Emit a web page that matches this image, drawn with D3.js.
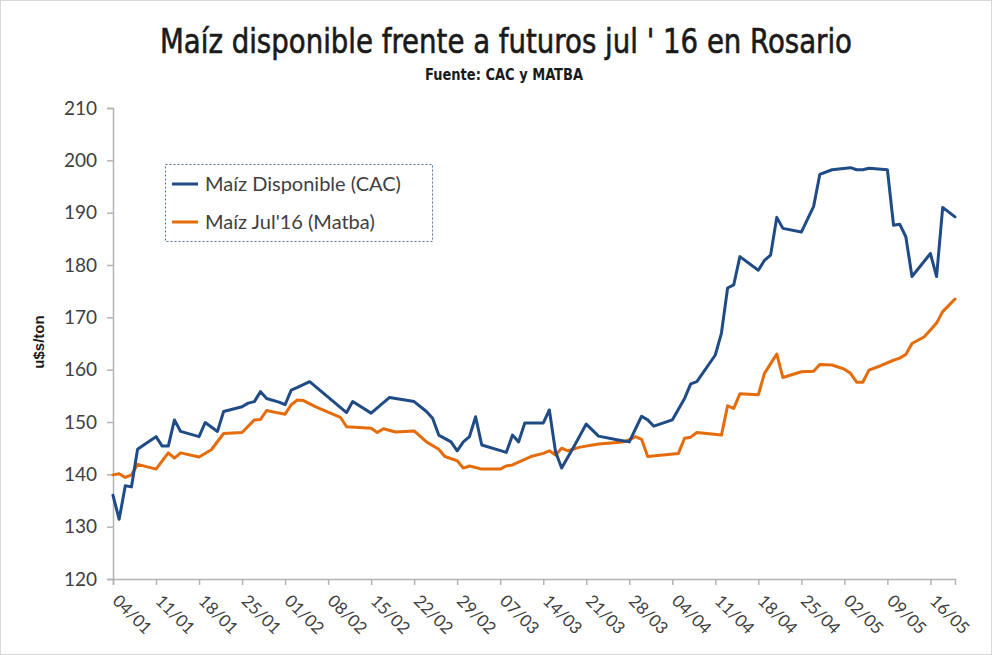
<!DOCTYPE html>
<html>
<head>
<meta charset="utf-8">
<script src="https://cdn.jsdelivr.net/npm/d3@7"></script>
<style>
  html, body { margin: 0; padding: 0; background: #fff; }
  svg { display: block; }
</style>
</head>
<body>
<svg id="chart" width="992" height="655"></svg>
<script>
// ---------------- DATA ----------------
const titleText = "Maíz disponible frente a futuros jul ' 16 en Rosario";
const subtitleText = "Fuente: CAC y MATBA";
const yAxisTitle = "u$s/ton";
const seriesNames = ["Maíz Disponible (CAC)", "Maíz Jul'16 (Matba)"];

const tickLabels = ["04/01","11/01","18/01","25/01","01/02","08/02","15/02","22/02","29/02","07/03",
                    "14/03","21/03","28/03","04/04","11/04","18/04","25/04","02/05","09/05","16/05"];
const yTicks = [120,130,140,150,160,170,180,190,200,210];

const cacDates = ["2016-01-04","2016-01-05","2016-01-06","2016-01-07","2016-01-08","2016-01-09","2016-01-11","2016-01-12",
  "2016-01-13","2016-01-14","2016-01-15","2016-01-18","2016-01-19","2016-01-21","2016-01-22","2016-01-25","2016-01-26",
  "2016-01-27","2016-01-28","2016-01-29","2016-01-31","2016-02-01","2016-02-02","2016-02-03","2016-02-05","2016-02-11",
  "2016-02-12","2016-02-15","2016-02-18","2016-02-22","2016-02-24","2016-02-25","2016-02-26","2016-02-28","2016-02-29",
  "2016-03-01","2016-03-02","2016-03-03","2016-03-04","2016-03-08","2016-03-09","2016-03-10","2016-03-11","2016-03-14",
  "2016-03-15","2016-03-16","2016-03-17","2016-03-19","2016-03-21","2016-03-23","2016-03-26","2016-03-28","2016-03-30",
  "2016-03-31","2016-04-01","2016-04-04","2016-04-06","2016-04-07","2016-04-08","2016-04-11","2016-04-12","2016-04-13",
  "2016-04-14","2016-04-15","2016-04-18","2016-04-19","2016-04-20","2016-04-21","2016-04-22","2016-04-25","2016-04-27",
  "2016-04-28","2016-04-30","2016-05-03","2016-05-04","2016-05-05","2016-05-06","2016-05-09","2016-05-10","2016-05-11",
  "2016-05-12","2016-05-13","2016-05-16","2016-05-17","2016-05-18","2016-05-20"];
const cacValues = [136.0,131.4,137.8,137.6,144.8,145.6,147.2,145.4,
  145.4,150.4,148.2,147.2,149.9,148.2,152.0,152.9,153.6,
  153.9,155.8,154.5,153.8,153.3,156.1,156.6,157.7,151.8,
  153.9,151.7,154.7,153.9,152.0,150.7,147.5,146.2,144.5,
  146.2,147.2,151.0,145.6,144.2,147.5,146.2,149.8,149.8,
  152.3,144.3,141.2,145.3,149.6,147.3,146.6,146.2,151.1,
  150.4,149.2,150.4,154.5,157.3,157.7,162.8,167.0,175.6,
  176.2,181.6,179.0,180.9,181.9,189.1,187.0,186.3,191.2,
  197.3,198.2,198.6,198.2,198.2,198.5,198.2,187.6,187.8,
  185.4,177.8,182.2,177.8,191.0,189.2];

const matbaDates = ["2016-01-04","2016-01-05","2016-01-06","2016-01-07","2016-01-08","2016-01-11","2016-01-13","2016-01-14",
  "2016-01-15","2016-01-18","2016-01-20","2016-01-22","2016-01-25","2016-01-27","2016-01-28","2016-01-29","2016-01-31",
  "2016-02-01","2016-02-02","2016-02-03","2016-02-04","2016-02-06","2016-02-10","2016-02-11","2016-02-15","2016-02-16",
  "2016-02-17","2016-02-19","2016-02-22","2016-02-24","2016-02-26","2016-02-27","2016-02-29","2016-03-01","2016-03-02",
  "2016-03-04","2016-03-07","2016-03-08","2016-03-09","2016-03-12","2016-03-14","2016-03-15","2016-03-16","2016-03-17",
  "2016-03-18","2016-03-20","2016-03-23","2016-03-27","2016-03-28","2016-03-29","2016-03-30","2016-03-31","2016-04-05",
  "2016-04-06","2016-04-07","2016-04-08","2016-04-12","2016-04-13","2016-04-14","2016-04-15","2016-04-18","2016-04-19",
  "2016-04-21","2016-04-22","2016-04-25","2016-04-27","2016-04-28","2016-04-30","2016-05-02","2016-05-03","2016-05-04",
  "2016-05-05","2016-05-06","2016-05-08","2016-05-10","2016-05-11","2016-05-12","2016-05-13","2016-05-15","2016-05-16",
  "2016-05-17","2016-05-18","2016-05-20"];
const matbaValues = [139.9,140.1,139.4,139.9,141.9,141.0,144.1,143.1,
  144.1,143.3,144.7,147.8,148.0,150.4,150.5,152.2,151.7,
  151.5,153.3,154.2,154.1,152.9,150.9,149.1,148.8,148.0,
  148.7,148.1,148.3,146.2,144.8,143.4,142.6,141.2,141.6,
  141.0,141.0,141.6,141.8,143.4,144.0,144.5,143.7,145.0,
  144.5,145.2,145.8,146.2,146.6,147.2,146.7,143.4,144.0,
  146.9,147.1,148.0,147.5,153.1,152.6,155.4,155.2,159.3,
  163.0,158.5,159.6,159.7,161.0,160.9,160.1,159.3,157.6,
  157.6,159.9,160.8,161.8,162.2,162.9,165.0,166.3,167.6,
  168.9,171.1,173.5];

const xStart = "2016-01-04", xEnd = "2016-05-20";

// ---------------- CHART ----------------
const parseISO = d3.timeParse("%Y-%m-%d");
const parseLbl = d3.timeParse("%d/%m/%Y");
const svg = d3.select("#chart");
const W = 992, H = 655;
const m = {left: 113, right: W - 955, top: 108, bottom: H - 579};

const blue = "#1f4b87", orange = "#e46c0a";
const axisColor = "#b3b3b3";
const textColor = "#404040";
const baseFont = "Lato, 'Open Sans', 'Noto Sans', sans-serif";
const narrowFont = "'Liberation Sans Narrow', 'DejaVu Sans Condensed', 'Roboto Condensed', Roboto, 'Liberation Sans', sans-serif";

svg.append("rect").attr("x", 0.5).attr("y", 0.5).attr("width", W - 1).attr("height", H - 1)
  .attr("fill", "#fff").attr("stroke", "#d9d9d9");

const x = d3.scaleTime().domain([parseISO(xStart), parseISO(xEnd)]).range([m.left, W - m.right]);
const y = d3.scaleLinear().domain([120, 210]).range([H - m.bottom, m.top]);

// title
svg.append("text").attr("x", 506).attr("y", 53).attr("text-anchor", "middle")
  .attr("font-family", narrowFont).attr("font-size", 34).attr("fill", "#1a1a1a")
  .attr("stroke", "#1a1a1a").attr("stroke-width", 0.6)
  .attr("textLength", 692).attr("lengthAdjust", "spacingAndGlyphs")
  .text(titleText);
svg.append("text").attr("x", 504).attr("y", 80).attr("text-anchor", "middle")
  .attr("font-family", narrowFont).attr("font-size", 15.5).attr("font-weight", "bold").attr("fill", "#1a1a1a")
  .attr("textLength", 158).attr("lengthAdjust", "spacingAndGlyphs")
  .text(subtitleText);

// y axis
const yAxis = d3.axisLeft(y).tickValues(yTicks).tickSize(6).tickPadding(10).tickFormat(d3.format("d"));
const gy = svg.append("g").attr("transform", `translate(${m.left},0)`).call(yAxis);
gy.select(".domain").attr("stroke", axisColor).attr("stroke-width", 1.5);
gy.selectAll(".tick line").attr("stroke", axisColor).attr("stroke-width", 1.5);
gy.selectAll(".tick text").attr("font-family", baseFont).attr("font-size", 19).attr("fill", textColor);

// x axis
const tickDates = tickLabels.map(s => parseLbl(s + "/2016"));
const xAxis = d3.axisBottom(x).tickValues(tickDates).tickSize(6).tickFormat((d, i) => tickLabels[i]);
const gx = svg.append("g").attr("transform", `translate(0,${H - m.bottom})`).call(xAxis);
gx.select(".domain").attr("stroke", axisColor).attr("stroke-width", 1.5);
gx.selectAll(".tick line").attr("stroke", axisColor).attr("stroke-width", 1.5);
gx.selectAll(".tick text").attr("font-family", baseFont).attr("font-size", 17).attr("fill", textColor)
  .attr("text-anchor", "start").attr("dy", null).attr("y", 0)
  .attr("transform", "translate(-2,23) rotate(45)");

// y axis title
svg.append("text").attr("transform", "translate(44,342) rotate(-90)").attr("text-anchor", "middle")
  .attr("font-family", "'Liberation Sans', Arial, sans-serif").attr("font-weight", "bold").attr("font-size", 15)
  .attr("fill", "#1a1a1a").text(yAxisTitle);

// lines
const line = d3.line().x(d => x(d.date)).y(d => y(d.v)).curve(d3.curveLinear);
const cac = cacDates.map((d, i) => ({date: parseISO(d), v: cacValues[i]}));
const matba = matbaDates.map((d, i) => ({date: parseISO(d), v: matbaValues[i]}));
svg.append("path").datum(matba).attr("d", line).attr("fill", "none").attr("stroke", orange)
  .attr("stroke-width", 3).attr("stroke-linejoin", "round").attr("stroke-linecap", "round");
svg.append("path").datum(cac).attr("d", line).attr("fill", "none").attr("stroke", blue)
  .attr("stroke-width", 3).attr("stroke-linejoin", "round").attr("stroke-linecap", "round");

// legend
const lg = svg.append("g");
lg.append("rect").attr("x", 165.5).attr("y", 164.5).attr("width", 267).attr("height", 77)
  .attr("fill", "#fff").attr("stroke", "#4f6f9f").attr("stroke-width", 1).attr("stroke-dasharray", "2,2");
const legTexts = [];
[blue, orange].forEach((c, i) => {
  const yy = 184 + i * 38;
  lg.append("line").attr("x1", 172).attr("x2", 198).attr("y1", yy).attr("y2", yy)
    .attr("stroke", c).attr("stroke-width", 3);
  legTexts.push(lg.append("text").attr("x", 205).attr("y", yy + 7).attr("font-family", baseFont).attr("font-size", 18)
    .attr("fill", textColor).text(seriesNames[i]));
});
// size legend font so the first entry spans the same width as in the reference
const w0 = legTexts[0].node().getComputedTextLength();
const fs = Math.min(22, 18 * 196 / w0);
legTexts.forEach(t => t.attr("font-size", fs));
</script>
</body>
</html>
